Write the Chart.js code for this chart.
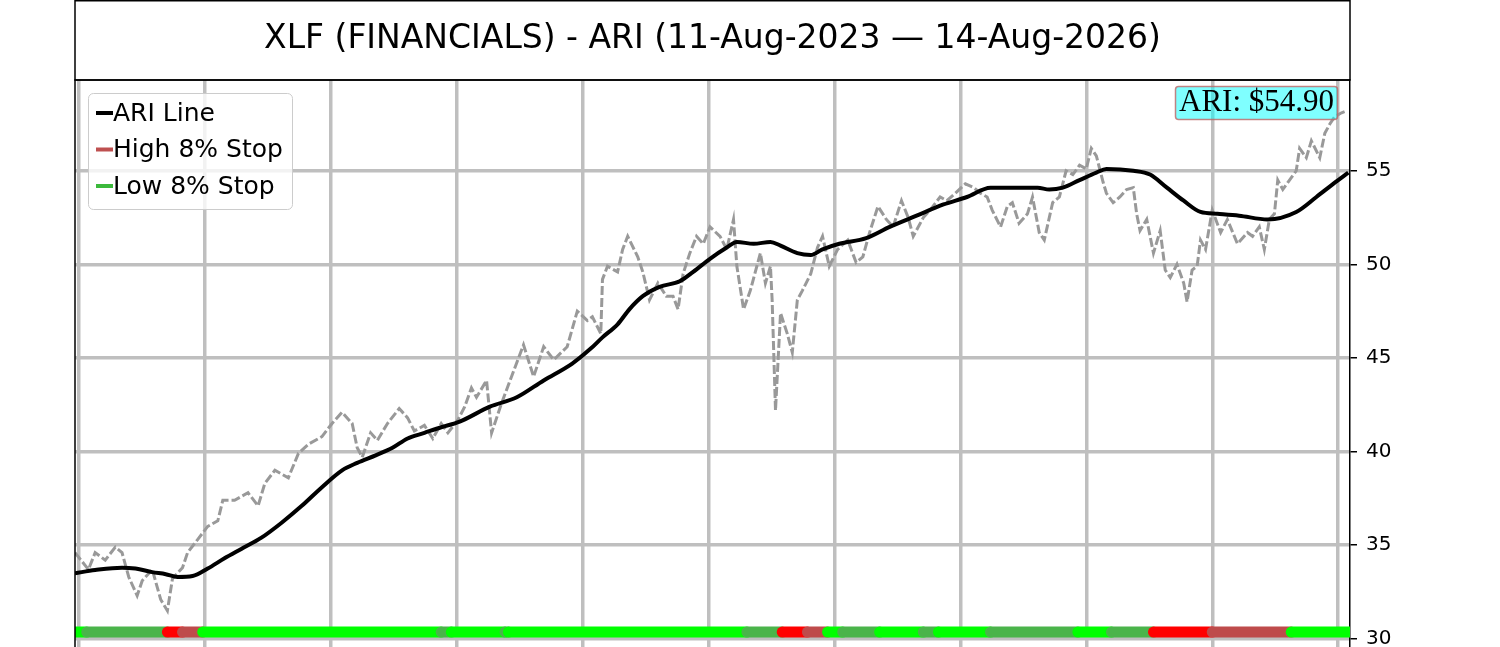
<!DOCTYPE html>
<html><head><meta charset="utf-8">
<script src="https://cdn.jsdelivr.net/npm/chart.js@4.4.1/dist/chart.umd.min.js"></script>
<style>html,body{margin:0;padding:0;background:#fff;}canvas{display:block;}</style>
</head><body>
<canvas id="c" width="1500" height="647"></canvas>
<script>
const titleText = "XLF (FINANCIALS) - ARI (11-Aug-2023 \u2014 14-Aug-2026)";

// trading-day index and price (gray dashed)
const priceDays = [0,8,12,18,24,28,32,37,40,46,51,55,58,64,67,73,79,85,88,95,103,109,113,119,127,133,139,147,153,159,165,168,171,176,180,186,193,198,202,208,213,218,222,228,232,236,239,245,248,254,259,267,273,279,285,293,299,305,308,313,314,317,323,326,329,335,338,342,347,352,356,359,362,366,370,374,378,384,388,392,394,398,402,408,411,414,415,417,420,424,427,430,433,438,442,445,449,454,460,465,469,473,478,483,487,492,496,499,505,509,515,519,524,530,535,539,543,546,551,555,558,562,567,570,574,577,582,586,590,594,598,602,605,608,612,614,618,622,626,630,632,634,638,642,646,649,652,656,660,662,665,668,670,673,677,682,686,692,698,701,705,708,711,714,716,719,723,727,729,733,736,741,744,747,750,754,757];
const priceValues = [34.6,33.7,34.6,34.2,34.9,34.6,33.3,32.3,33.1,33.7,32.1,31.5,33.2,33.8,34.6,35.3,36.0,36.3,37.4,37.4,37.8,37.1,38.3,39.0,38.6,39.9,40.4,40.8,41.5,42.1,41.5,40.2,39.7,41.0,40.6,41.5,42.3,41.8,41.1,41.4,40.7,41.5,41.0,41.7,42.4,43.4,42.9,43.8,41.0,42.6,43.8,45.7,44.0,45.6,44.9,45.6,47.5,47.0,47.2,46.3,49.2,49.9,49.6,50.8,51.5,50.4,49.6,48.1,49.0,48.3,48.3,47.6,49.5,50.6,51.5,51.1,52.0,51.5,50.8,52.4,49.9,47.6,48.6,50.6,49.0,49.9,48.1,42.2,47.4,46.3,45.3,48.1,48.6,49.5,50.9,51.5,49.9,50.8,51.3,50.1,50.4,51.7,53.1,52.4,52.0,53.4,52.5,51.5,52.5,52.9,53.6,53.4,53.8,54.3,54.1,53.8,53.6,52.9,52.0,53.1,53.3,52.2,52.7,53.6,51.7,51.3,53.3,53.6,55.0,54.8,55.3,55.1,56.2,55.8,54.4,53.8,53.3,53.6,54.0,54.1,52.7,51.8,52.4,50.6,51.8,49.7,49.3,50.0,49.0,48.0,49.7,49.9,51.3,50.8,52.9,51.7,52.4,51.1,51.7,51.5,52.0,50.8,52.4,52.7,54.5,54.0,54.5,55.0,56.2,55.7,56.6,55.7,57.0,57.5,57.9,58.1,58.2];

// ARI line (black)
const ariDays = [0,12,28,36,46,54,61,70,79,89,99,111,123,135,147,159,168,179,189,198,208,218,229,247,263,279,296,307,314,323,330,338,348,360,368,378,388,394,404,414,420,430,438,445,455,471,485,501,517,531,545,558,573,580,588,598,608,614,630,640,650,660,670,680,693,710,727,739,749,758];
const ariValues = [33.5,33.67,33.8,33.75,33.56,33.45,33.3,33.35,33.75,34.3,34.8,35.4,36.2,37.1,38.1,39.0,39.4,39.8,40.2,40.7,41.0,41.3,41.6,42.4,42.9,43.8,44.7,45.5,46.1,46.8,47.6,48.3,48.8,49.1,49.6,50.3,50.9,51.2,51.1,51.2,51.0,50.6,50.5,50.8,51.1,51.4,52.0,52.6,53.2,53.6,54.1,54.1,54.1,54.0,54.1,54.5,54.9,55.1,55.0,54.8,54.1,53.4,52.8,52.7,52.6,52.4,52.8,53.6,54.3,54.9];

// stop-state band along the bottom
const bandDays = [0,7,55,64,76,218,224,256,258,400,421,436,448,457,479,505,514,545,597,617,642,677,724,759];
const bandStates = ["lowOn","lowOff","highOn","highOff","lowOn","lowOff","lowOn","lowOff","lowOn","lowOff","highOn","highOff","lowOn","lowOff","lowOn","lowOff","lowOn","lowOff","lowOn","lowOff","highOn","highOff","lowOn"];
const bandLevel = 30.36;

const yTicks = [30,35,40,45,50,55];
const xGridDays = [2,77,152,227,302,377,452,527,602,677,752];
const legendLabels = ["ARI Line","High 8% Stop","Low 8% Stop"];

const bandColors = {lowOn:"#00ff00", lowOff:"rgb(74,180,74)", highOn:"#ff0000", highOff:"rgb(190,75,75)"};
const legendColors = ["#000000","rgb(190,80,80)","rgb(60,185,60)"];
const gridColor = "rgb(191,191,191)";

const pricePts = priceDays.map((d,i)=>({x:d,y:priceValues[i]}));
const ariPts = ariDays.map((d,i)=>({x:d,y:ariValues[i]}));
const bandPts = bandDays.map(d=>({x:d,y:bandLevel}));

const decor = {
  id:'decor',
  afterDraw(chart){
    const ctx = chart.ctx, a = chart.chartArea;
    ctx.save();
    ctx.strokeStyle = '#000'; ctx.lineWidth = 1.5;
    ctx.beginPath();
    ctx.moveTo(a.left, a.bottom); ctx.lineTo(a.left, a.top); ctx.lineTo(a.right, a.top);
    ctx.stroke();
    ctx.strokeRect(a.left, 0.75, a.right - a.left, a.top - 0.75);
    // legend
    ctx.beginPath();
    ctx.roundRect(88.5, 93.5, 204, 116, 5);
    ctx.fillStyle = 'rgba(255,255,255,0.8)'; ctx.fill();
    ctx.strokeStyle = 'rgb(204,204,204)'; ctx.lineWidth = 1; ctx.stroke();
    ctx.font = '25px "DejaVu Sans"'; ctx.textBaseline = 'middle'; ctx.textAlign = 'left';
    legendLabels.forEach((lab,i)=>{
      const y = 113 + i*36.5;
      ctx.strokeStyle = legendColors[i]; ctx.lineWidth = 4; ctx.lineCap = 'butt';
      ctx.beginPath(); ctx.moveTo(96, y); ctx.lineTo(113, y); ctx.stroke();
      ctx.fillStyle = '#000'; ctx.fillText(lab, 113, y + 1);
    });
    // ARI label
    const last = ariValues[ariValues.length-1];
    ctx.beginPath();
    ctx.roundRect(1175.5, 86.5, 162, 33, 3);
    ctx.fillStyle = 'rgba(0,255,255,0.5)'; ctx.fill();
    ctx.strokeStyle = 'rgba(190,100,100,0.8)'; ctx.lineWidth = 1.5; ctx.stroke();
    ctx.fillStyle = '#000'; ctx.font = '31px "Liberation Serif"';
    ctx.textAlign = 'right'; ctx.textBaseline = 'alphabetic';
    ctx.fillText('ARI: $' + last.toFixed(2), 1334, 111);
    ctx.restore();
  }
};

new Chart(document.getElementById('c'), {
  type:'line',
  data:{datasets:[
    {label:'band', data:bandPts, borderWidth:11, borderCapStyle:'round', pointRadius:0,
     borderColor:bandColors.lowOn, tension:0,
     segment:{borderColor: c => bandColors[bandStates[c.p0DataIndex]]}},
    {label:'ARI Line', data:ariPts, borderColor:'#000', borderWidth:4, pointRadius:0,
     cubicInterpolationMode:'monotone'},
    {label:'Price', data:pricePts, borderColor:'#999999', borderWidth:3, pointRadius:0,
     borderDash:[9,3], tension:0}
  ]},
  options:{
    responsive:false, animation:false,
    layout:{padding:{left:75,right:0,top:0,bottom:0}},
    plugins:{
      legend:{display:false}, tooltip:{enabled:false},
      title:{display:true, text:titleText, fullSize:false, color:'#000',
        font:{family:'DejaVu Sans', size:33, weight:'normal', lineHeight:1.2},
        padding:{top:20, bottom:20.4}}
    },
    scales:{
      x:{type:'linear', min:0, max:759,
        afterBuildTicks: s => { s.ticks = xGridDays.map(v=>({value:v})); },
        afterFit: s => { s.height = 0; s.paddingLeft = 0; s.paddingRight = 0; s.paddingTop = 0; s.paddingBottom = 0; },
        ticks:{display:false},
        grid:{color:gridColor, lineWidth:3.5, drawTicks:false},
        border:{display:false}},
      y:{type:'linear', position:'right', min:29.56, max:59.85,
        afterBuildTicks: s => { s.ticks = yTicks.map(v=>({value:v})); },
        afterFit: s => { s.width = 150; s.paddingTop = 0; s.paddingBottom = 0; },
        ticks:{autoSkip:false, padding:9, color:'#000', font:{family:'DejaVu Sans', size:20},
          callback: v => String(v)},
        grid:{color:gridColor, lineWidth:3.5, tickLength:7, tickColor:'#000', tickWidth:1.5},
        border:{display:true, color:'#000', width:1.5}}
    }
  },
  plugins:[decor]
});
</script>
</body></html>
